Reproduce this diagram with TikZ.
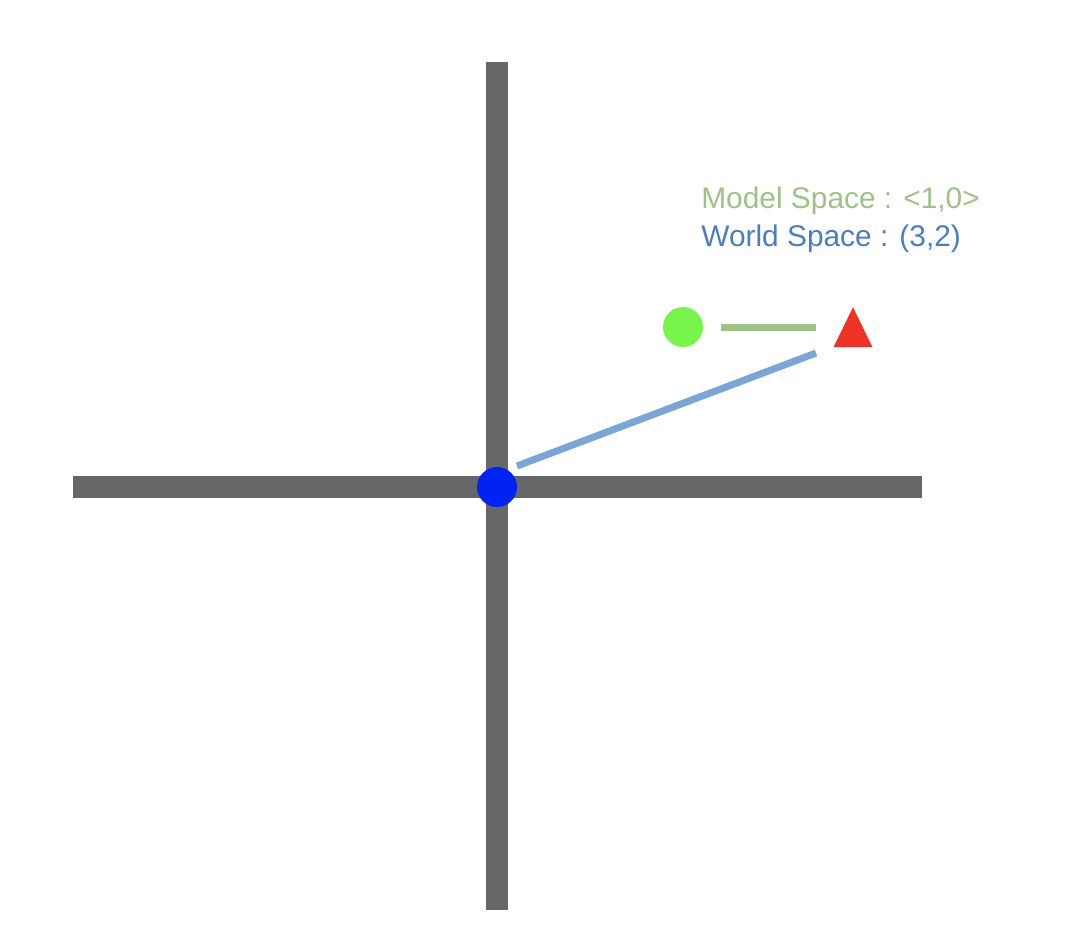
\documentclass[tikz,border=0pt]{standalone}
\usepackage{fontspec}
\setmainfont{Liberation Sans}
\usepackage{tikz}
\usetikzlibrary{shapes.geometric, calc}
\definecolor{axisgray}{HTML}{666666}
\definecolor{origblue}{HTML}{0022F5}
\definecolor{modelgreen}{HTML}{77F54B}
\definecolor{linegreen}{HTML}{9DC384}
\definecolor{lineblue}{HTML}{78A6D8}
\definecolor{textblue}{HTML}{4A7EC2}
\definecolor{trired}{HTML}{EE3224}

\begin{document}
\begin{tikzpicture}[x=0.02cm, y=-0.02cm,
  axis/.style={axisgray, line width=0.44cm},
  dot/.style={circle, inner sep=0pt, minimum size=0.8cm},
  link/.style={line width=0.14cm},
  caption/.style={anchor=base west, inner sep=0pt, font=\fontsize{17}{20}\selectfont}]
  \useasboundingbox (0,0) rectangle (1070,950);
  % Axes
  \draw[axis] (73,487) -- (922,487);
  \draw[axis] (497,62) -- (497,910);
  % Points
  \node[dot, fill=origblue] (origin) at (497,487) {};
  \node[dot, fill=modelgreen] (model) at (683,327) {};
  \node[isosceles triangle, isosceles triangle apex angle=52,
        isosceles triangle stretches, shape border rotate=90,
        minimum width=0.78cm, minimum height=0.8cm, inner sep=0pt,
        fill=trired] (target) at (853,335) {};
  % Connectors
  \draw[link, linegreen, shorten <=0.76cm, shorten >=0.74cm]
    (model.center) -- (model.center -| target.center);
  \coordinate (wfrom) at (517,466);
  \coordinate (wto) at (816,353);
  \draw[link, lineblue] (wfrom) -- (wto);
  % Labels
  \node[caption, linegreen] (mlabel) at (701,208) {Model Space : <1,0>};
  \node[caption, textblue] (wlabel) at (701,246) {World Space : (3,2)};
\end{tikzpicture}
\end{document}
